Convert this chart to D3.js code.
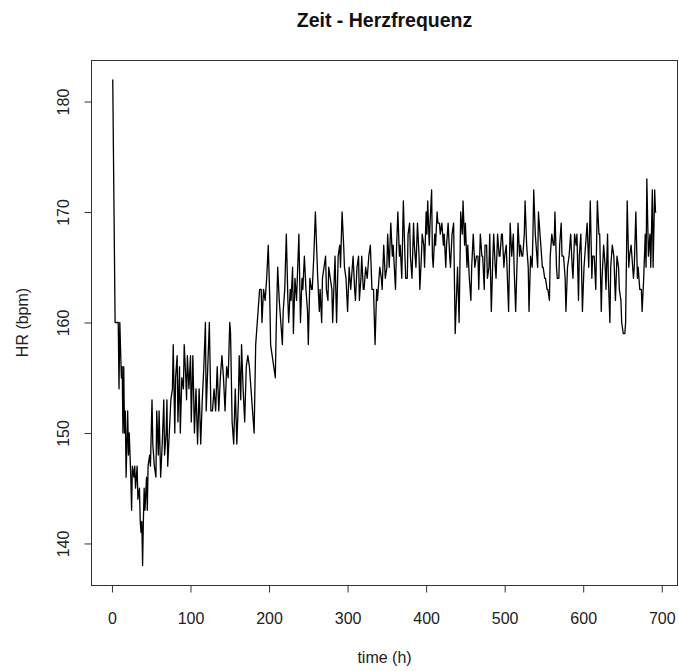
<!DOCTYPE html>
<html><head><meta charset="utf-8">
<script src="https://cdn.jsdelivr.net/npm/d3@7"></script>
<style>body{margin:0;background:#fff}svg{display:block}text{font-family:"Liberation Sans",Arial,sans-serif}</style>
</head><body><svg id="c" width="679" height="671"></svg>
<script>
const title = "Zeit - Herzfrequenz";
const xLabel = "time (h)";
const yLabel = "HR (bpm)";
const xTicks = [0,100,200,300,400,500,600,700];
const yTicks = [140,150,160,170,180];
const times = [1,4,8,9,10,12,13,14,15,16,17,18,20,21,22,24,25,26,28,29,30,32,33,35,36,37,38,39,40,41,42,44,45,46,48,49,51,52,54,56,57,59,60,62,64,66,67,69,70,71,73,75,77,78,80,81,83,84,86,87,89,91,92,94,95,96,98,100,101,103,105,107,109,111,113,115,117,119,120,122,124,126,128,130,132,134,136,138,140,142,144,146,148,150,151,153,155,157,159,161,162,164,165,167,169,171,173,175,177,179,181,183,185,186,188,190,191,193,195,197,199,201,202,204,206,208,209,211,213,215,217,218,220,222,224,225,227,228,230,231,233,235,238,240,242,243,245,247,249,250,252,254,255,257,259,261,262,264,265,267,268,270,272,273,275,276,278,280,281,283,284,286,288,290,291,293,295,296,298,300,302,304,305,307,309,310,312,314,315,317,318,320,321,323,325,327,329,331,333,335,337,338,341,343,344,346,348,350,351,353,355,357,358,361,362,364,366,367,369,371,373,374,376,377,379,380,382,384,385,387,389,391,392,394,395,397,398,400,401,402,404,405,407,408,409,411,412,414,415,417,418,420,422,423,425,426,428,430,431,433,435,436,437,439,440,442,443,444,446,447,449,450,452,453,455,457,458,460,462,464,466,467,469,471,472,474,475,477,478,480,481,483,485,486,488,489,491,493,494,496,497,499,500,502,504,505,507,509,511,512,514,516,517,519,520,522,523,525,526,528,530,531,533,535,536,537,539,540,542,543,545,546,548,549,551,552,554,555,557,558,560,562,563,564,566,567,569,570,572,573,575,577,578,580,582,584,586,587,589,591,592,594,595,597,599,601,602,604,605,607,609,611,612,614,616,618,620,621,623,624,626,628,629,631,632,634,635,637,639,641,643,645,646,648,649,651,653,654,656,658,659,661,662,664,665,667,669,670,672,674,675,677,679,680,681,683,685,686,688,689,691,692,693];
const hr = [182,160,160,154,160,155,156,150,156,150,152,146,152,148,150,146,143,147,146,147,145,147,144,145,142,141,142,138,142,145,143,146,143,147,148,147,153,149,147,146,152,148,152,146,149,153,148,150,153,147,150,153,154,158,150,155,157,151,156,150,155,154,158,155,153,157,154,157,151,157,150,154,149,154,149,153,156,160,152,156,160,152,152,154,152,156,152,155,157,155,152,156,155,160,159,151,149,154,149,153,157,153,158,154,151,156,157,156,154,152,150,158,160,161,163,163,160,163,162,164,167,162,158,157,156,155,159,165,162,160,158,161,163,168,162,160,163,162,165,159,164,162,168,160,164,163,166,163,161,158,164,163,163,166,170,166,164,161,163,160,164,165,166,163,162,165,164,163,160,164,166,160,166,167,165,170,167,165,164,161,165,163,164,166,163,162,165,166,162,164,166,163,163,165,164,166,167,163,163,158,163,162,165,164,163,167,164,165,168,165,169,166,167,163,166,170,166,167,164,171,166,164,164,168,169,166,164,169,167,165,169,166,163,166,168,167,165,170,168,171,167,169,172,166,165,168,167,170,169,169,168,169,167,168,165,167,169,166,165,168,169,164,159,163,165,160,165,170,168,171,167,169,165,167,164,162,165,168,165,166,166,163,168,166,166,163,167,167,164,165,168,161,166,168,165,164,168,166,166,168,168,165,166,167,163,161,169,166,168,165,161,166,169,166,167,166,166,168,171,167,165,161,166,165,168,172,168,167,165,170,168,167,165,165,164,164,163,163,162,166,168,167,167,170,165,164,164,167,169,166,166,164,161,165,166,168,165,164,168,167,168,162,166,168,161,165,166,168,169,165,171,164,166,166,163,171,168,168,161,164,167,165,163,168,164,160,165,167,166,162,166,165,163,162,160,159,159,160,171,165,166,167,166,164,165,170,164,165,163,163,161,164,168,165,173,166,168,165,172,165,172,170,170];

const svg = d3.select("#c");
const L = 91, R = 678, T = 60, B = 585;
const data = times.map((t,i)=>({t, v: hr[i]}));
const tx = d3.extent(times), vy = d3.extent(hr);
const padX = (tx[1]-tx[0])*0.04, padY = (vy[1]-vy[0])*0.04;
const x = d3.scaleLinear().domain([tx[0]-padX, tx[1]+padX]).range([L, R]);
const y = d3.scaleLinear().domain([vy[0]-padY, vy[1]+padY]).range([B, T]);

// data line
svg.append("path").datum(data)
  .attr("fill","none").attr("stroke","#000").attr("stroke-width",1.3)
  .attr("stroke-linejoin","round")
  .attr("d", d3.line().x(d=>x(d.t)).y(d=>y(d.v)));

// box
svg.append("rect").attr("x",L+0.5).attr("y",T+0.5).attr("width",R-L-1).attr("height",B-T)
  .attr("fill","none").attr("stroke","#333").attr("stroke-width",1);

// x axis
const gx = svg.append("g").attr("transform",`translate(0,${B+0.5})`)
  .call(d3.axisBottom(x).tickValues(xTicks).tickSize(7).tickPadding(20).tickSizeOuter(0));
gx.select(".domain").remove();
gx.selectAll("line").attr("stroke","#333");
gx.selectAll("text").attr("font-size","16px").attr("fill","#222").style("font-family","'Liberation Sans',Arial,sans-serif");

// y axis
const gy = svg.append("g").attr("transform",`translate(${L+0.5},0)`)
  .call(d3.axisLeft(y).tickValues(yTicks).tickSize(7).tickSizeOuter(0));
gy.select(".domain").remove();
gy.selectAll("line").attr("stroke","#333");
gy.selectAll("text")
  .attr("font-size","16px").attr("fill","#222").style("font-family","'Liberation Sans',Arial,sans-serif")
  .attr("x",null).attr("dy",null)
  .attr("text-anchor","middle")
  .attr("transform","translate(-23,0) rotate(-90)");

// titles
svg.append("text").attr("x",(L+R)/2).attr("y",27).attr("text-anchor","middle")
  .attr("font-size","19.5px").attr("font-weight","bold").attr("fill","#111").text(title);
svg.append("text").attr("x",(L+R)/2).attr("y",663).attr("text-anchor","middle")
  .attr("font-size","16px").attr("fill","#222").text(xLabel);
svg.append("text").attr("transform",`translate(28,${(T+B)/2}) rotate(-90)`).attr("text-anchor","middle")
  .attr("font-size","16px").attr("fill","#222").text(yLabel);
</script></body></html>
